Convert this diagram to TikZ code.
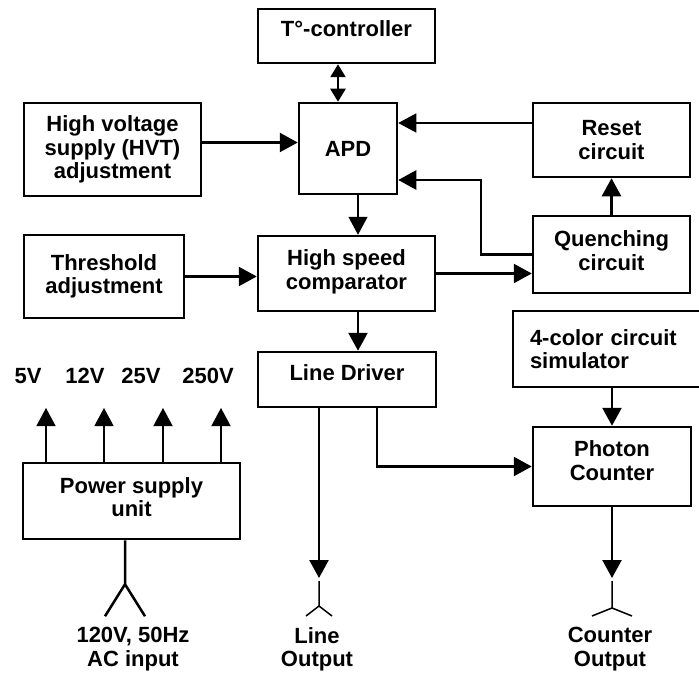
\documentclass[tikz,border=0pt]{standalone}
\usepackage{fontspec}
\setmainfont{Liberation Sans}
\usetikzlibrary{arrows.meta}

\begin{document}
\begin{tikzpicture}[x=1pt, y=-1pt,
	font=\bfseries\fontsize{22}{23.5}\selectfont,
	box/.style={draw, line width=2.5pt, align=center, inner sep=0pt},
	lift/.style={execute at end node={\rule[-#1]{0pt}{#1}}},
	wire/.style={line width=2.5pt},
	thinwire/.style={line width=1.5pt},
	tip/.style={-{Triangle[length=18pt,width=19pt]}},
	dbl/.style={{Triangle[length=13pt,width=15pt]}-{Triangle[length=13pt,width=15pt]}}]
		\useasboundingbox (0,0) rectangle (699,674);
		
		\node (tctl) at (346.5,36) [box, lift=14pt, minimum width=177pt, minimum height=54pt] {T°-controller};
		\node (apd) at (348,148.5) [box, minimum width=98pt, minimum height=91pt] {APD};
		\node (hvt) at (112.5,149.5) [box, minimum width=177pt, minimum height=93pt] {High voltage\\supply (HVT)\\adjustment};
		\node (reset) at (611.5,140) [box, minimum width=157pt, minimum height=74pt] {Reset\\circuit};
		\node (quench) at (611.5,254.5) [box, lift=8pt, minimum width=157pt, minimum height=77pt] {Quenching\\circuit};
		\node (thr) at (104,276.5) [box, minimum width=160pt, minimum height=83pt] {Threshold\\adjustment};
		\node (comp) at (346.5,273.5) [box, lift=8pt, minimum width=177pt, minimum height=75pt] {High speed\\comparator};
		\node (ld) at (347,379.5) [box, lift=14pt, minimum width=178pt, minimum height=55pt] {Line Driver};
		\node (sim) at (607.5,349) [box, minimum width=189pt, minimum height=76pt, text width=155pt, align=left] {4-color circuit\\simulator};
		\node (pc) at (612,466.5) [box, lift=12pt, minimum width=158pt, minimum height=79pt] {Photon\\Counter};
		\node (psu) at (131.5,501) [box, lift=8pt, minimum width=217pt, minimum height=76pt] {Power supply\\unit};
		
		\node (ac) at (133,627) [anchor=north, align=center, inner sep=0pt] {120V, 50Hz\\AC input};
		\node (lineout) at (317,627) [anchor=north, align=center, inner sep=0pt] {Line\\Output};
		\node (cntout) at (610,627) [anchor=north, align=center, inner sep=0pt] {Counter\\Output};
		
		% supply outputs
		\foreach \lx/\ax/\v [count=\i] in {28/46/5V, 85/104/12V, 141/163/25V, 208/221/250V} {
			\node (v\i) at (\lx,383) [anchor=base, inner sep=0pt] {\v};
			\coordinate (t\i) at (\ax,408);
			\draw [thinwire, tip] (t\i |- psu.north) -> (t\i);
		}
		
		\coordinate (tc) at ([xshift=-10pt]apd.north);
		\draw [wire, dbl] (tc |- tctl.south) -- (tc);
		\coordinate (hv) at ([yshift=7pt]hvt.east);
		\draw [wire, tip] (hv) -> (hv -| apd.west);
		\coordinate (rs) at ([yshift=17pt]reset.west);
		\draw [thinwire, tip] (rs) -> (rs -| apd.east);
		\coordinate (qa) at ([yshift=-31.5pt]apd.east);
		\draw [wire, tip] (quench.west) -- ++(-51,0) |- (qa);
		\coordinate (ac1) at ([xshift=10pt]apd.south);
		\draw [thinwire, tip] (ac1) -> (ac1 |- comp.north);
		\draw [wire, tip] (comp.east) -> (comp.east -| quench.west);
		\draw [wire, tip] (thr.east) -> (thr.east -| comp.west);
		\coordinate (cl) at ([xshift=11.5pt]comp.south);
		\draw [wire, tip] (cl) -> (cl |- ld.north);
		\draw [wire, tip] (quench.north) -> (reset.south);
		\draw [wire, tip] (pc.north |- sim.south) -> (pc.north);
		\coordinate (lp) at ([xshift=30pt]ld.south);
		\draw [wire, tip] (lp) |- (pc.west);
		
		% output jacks
		\coordinate (lo) at ([xshift=-28pt]ld.south);
		\coordinate (lojack) at (319,578);
		\draw [wire, tip] (lo) -> (lojack);
		\draw [thinwire] ([yshift=-3pt]lojack) -- ++(0,25) -- ++(-13,10) ++(13,-10) -- ++(13,10);
		\coordinate (cojack) at (612,578);
		\draw [wire, tip] (pc.south) -> (cojack);
		\draw [thinwire] ([yshift=-3pt]cojack) -- ++(0,27) -- ++(-20,8) ++(20,-8) -- ++(20,8);
		
		% mains input
		\coordinate (acin) at ([xshift=-6.5pt]psu.south);
		\draw [wire] (acin) -- ++(0,44) -- ++(-20,32) ++(20,-32) -- ++(20,32);
\end{tikzpicture}
\end{document}
